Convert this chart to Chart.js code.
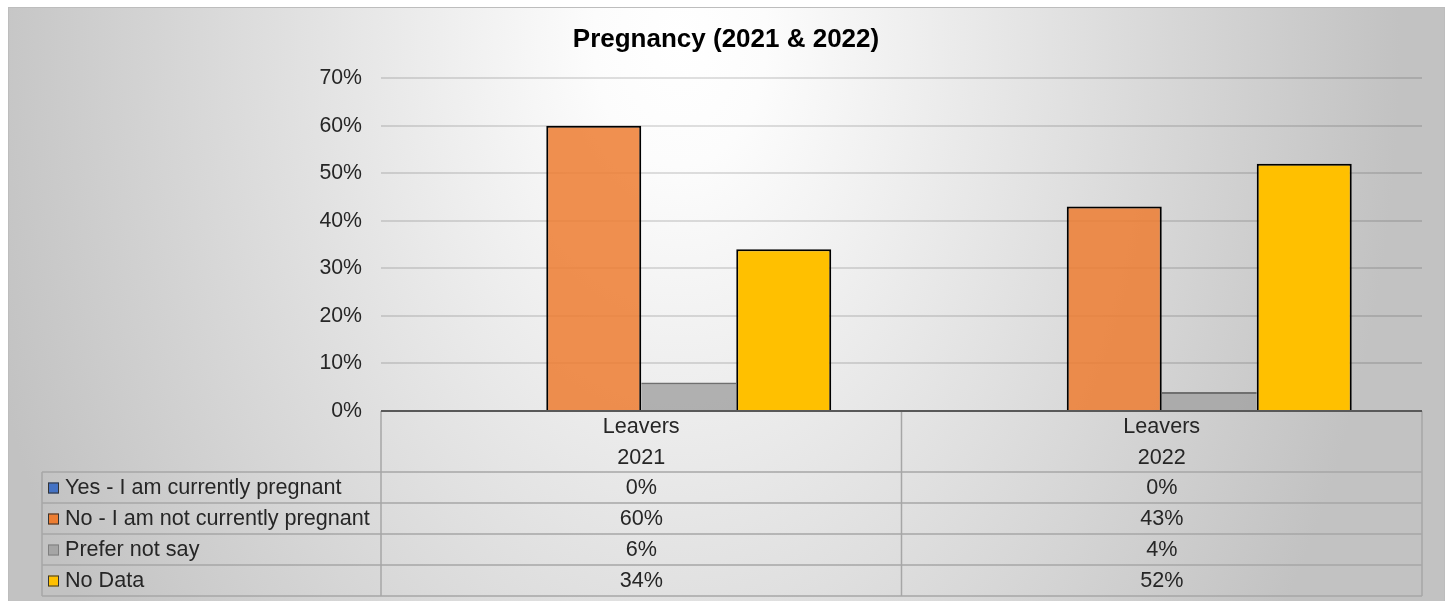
<!DOCTYPE html>
<html>
<head>
<meta charset="utf-8">
<title>Pregnancy (2021 &amp; 2022)</title>
<script src="https://cdn.jsdelivr.net/npm/chart.js@4.4.0/dist/chart.umd.min.js"></script>
<style>
  html, body { margin: 0; padding: 0; background: #fff; }
  #wrap { width: 1453px; height: 601px; }
</style>
</head>
<body>
<div id="wrap"><canvas id="chartCanvas" width="1453" height="601"></canvas></div>
<script>
// categories (two-line labels), series names and values in percent
const categories = [['Leavers', '2021'], ['Leavers', '2022']];
const seriesNames = [
  'Yes - I am currently pregnant',
  'No - I am not currently pregnant',
  'Prefer not say',
  'No Data'
];
const yesPregnant = [0, 0];
const notPregnant = [60, 43];
const preferNotSay = [6, 4];
const noData = [34, 52];
const yMax = 70;
const yStep = 10;

const FONT = '"Liberation Sans", Arial, sans-serif';
const TEXT = '#262626';
const swatches = ['#4472C4', '#ED7D31', '#A5A5A5', '#FFC000'];

// soft radial backdrop + frame
const backdrop = {
  id: 'backdrop',
  beforeDraw(chart) {
    const { ctx } = chart;
    const fx = 8, fy = 7, fw = 1437, fh = 600;
    ctx.save();
    ctx.fillStyle = '#fff';
    ctx.fillRect(0, 0, chart.width, chart.height);
    ctx.beginPath();
    ctx.rect(fx, fy, fw, fh);
    ctx.clip();
    ctx.translate(680, 40);
    ctx.scale(1, 1.45);
    const g = ctx.createRadialGradient(0, 0, 0, 0, 0, 720);
    g.addColorStop(0, '#ffffff');
    g.addColorStop(0.12, '#fcfcfc');
    g.addColorStop(1, '#c2c2c2');
    ctx.fillStyle = g;
    ctx.fillRect(-800, -100, 1700, 500);
    ctx.restore();
    ctx.save();
    ctx.strokeStyle = '#bdbdbd';
    ctx.lineWidth = 1;
    ctx.strokeRect(fx + 0.5, fy + 0.5, fw - 1, fh);
    ctx.restore();
  }
};

// data table under the plot: header with categories, one row per series
const dataTable = {
  id: 'dataTable',
  afterDraw(chart) {
    const { ctx, chartArea } = chart;
    const xs = chart.scales.x;
    const left = chartArea.left, right = chartArea.right, top = chartArea.bottom;
    const headH = 61, rowH = 31, legendLeft = 42;
    const rowsTop = top + headH;
    const bottom = rowsTop + rowH * seriesNames.length;
    const mid = (xs.getPixelForValue(0) + xs.getPixelForValue(1)) / 2;

    ctx.save();
    ctx.strokeStyle = '#a6a6a6';
    ctx.lineWidth = 1.5;
    ctx.beginPath();
    for (let r = 0; r <= seriesNames.length; r++) {
      const y = rowsTop + r * rowH;
      ctx.moveTo(legendLeft, y);
      ctx.lineTo(right, y);
    }
    ctx.moveTo(legendLeft, rowsTop);
    ctx.lineTo(legendLeft, bottom);
    ctx.moveTo(left, top);
    ctx.lineTo(left, bottom);
    ctx.moveTo(mid, top);
    ctx.lineTo(mid, bottom);
    ctx.moveTo(right, top);
    ctx.lineTo(right, bottom);
    ctx.stroke();

    // axis line on top of the table
    ctx.strokeStyle = '#595959';
    ctx.lineWidth = 2;
    ctx.beginPath();
    ctx.moveTo(left, top);
    ctx.lineTo(right, top);
    ctx.stroke();

    ctx.fillStyle = TEXT;
    ctx.font = `21.6px ${FONT}`;
    ctx.textBaseline = 'middle';
    ctx.textAlign = 'center';
    categories.forEach((lines, i) => {
      const x = xs.getPixelForValue(i);
      ctx.fillText(lines[0], x, top + 16);
      ctx.fillText(lines[1], x, top + 47);
    });

    chart.data.datasets.forEach((ds, r) => {
      const cy = rowsTop + r * rowH + rowH / 2 + 1;
      ds.data.forEach((v, i) => {
        ctx.textAlign = 'center';
        ctx.fillText(`${v}%`, xs.getPixelForValue(i), cy);
      });
      ctx.fillStyle = swatches[r];
      ctx.fillRect(48, cy - 6, 11, 11);
      ctx.strokeStyle = r === 2 ? '#7f7f7f' : '#333';
      ctx.lineWidth = 1;
      ctx.strokeRect(48.5, cy - 5.5, 10, 10);
      ctx.fillStyle = TEXT;
      ctx.textAlign = 'left';
      ctx.fillText(seriesNames[r], 65, cy);
    });
    ctx.restore();
  }
};

const barShape = { categoryPercentage: 0.73, barPercentage: 1.0, borderSkipped: 'start' };

new Chart(document.getElementById('chartCanvas').getContext('2d'), {
  type: 'bar',
  data: {
    labels: categories,
    datasets: [
      { label: seriesNames[0], data: yesPregnant, backgroundColor: '#4472C4', borderColor: '#000', borderWidth: 2, ...barShape },
      { label: seriesNames[1], data: notPregnant, backgroundColor: 'rgba(237,125,49,0.85)', borderColor: '#000', borderWidth: 2, ...barShape },
      { label: seriesNames[2], data: preferNotSay, backgroundColor: 'rgba(165,165,165,0.85)', borderColor: '#6f6f6f',
        borderWidth: { top: 2, left: 0, right: 0, bottom: 0 }, ...barShape },
      { label: seriesNames[3], data: noData, backgroundColor: '#FFC000', borderColor: '#000', borderWidth: 2, ...barShape }
    ]
  },
  options: {
    responsive: false,
    devicePixelRatio: 1,
    animation: false,
    // symmetric padding keeps the title centred on the frame
    layout: { padding: { left: 15, right: 16, top: 0, bottom: 190 } },
    plugins: {
      legend: { display: false },
      tooltip: { enabled: false },
      title: {
        display: true,
        text: 'Pregnancy (2021 & 2022)',
        color: '#000',
        font: { family: FONT, size: 26, weight: 'bold' },
        padding: { top: 24, bottom: 23 }
      }
    },
    scales: {
      x: { display: false },
      y: {
        min: 0,
        max: yMax,
        afterFit: (scale) => { scale.width = 366; },
        border: { display: false },
        grid: {
          drawTicks: false,
          lineWidth: 2,
          color: (c) => (c.tick && c.tick.value === 0 ? 'rgba(0,0,0,0)' : 'rgba(0,0,0,0.12)')
        },
        ticks: {
          stepSize: yStep,
          padding: 19,
          color: TEXT,
          font: { family: FONT, size: 21.3 },
          callback: (v) => `${v}%`
        }
      },
      // empty right-hand gutter
      yRight: {
        position: 'right',
        min: 0,
        max: yMax,
        afterFit: (scale) => { scale.width = 15; },
        border: { display: false },
        grid: { display: false, drawTicks: false },
        ticks: { display: false }
      }
    }
  },
  plugins: [backdrop, dataTable]
});
</script>
</body>
</html>
